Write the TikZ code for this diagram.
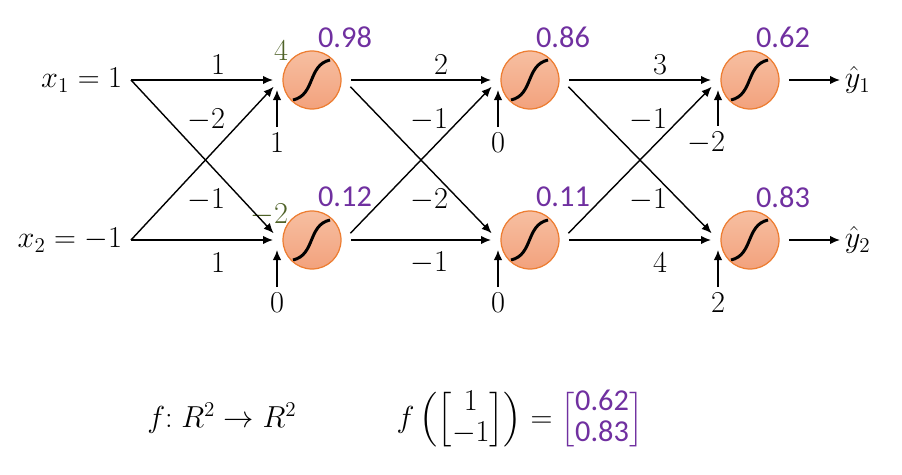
\documentclass[tikz,border=0pt]{standalone}
\usepackage{amsmath}
\usepackage{fontspec}
\newfontfamily\carl{Carlito}
\usetikzlibrary{arrows.meta,positioning}
\definecolor{vio}{HTML}{7030A0}
\definecolor{zgreen}{HTML}{4F6228}
\definecolor{nborder}{HTML}{ED7D31}
\definecolor{ntop}{HTML}{F7BFA1}
\definecolor{nbot}{HTML}{F2A27D}
\newcommand{\mn}{\llap{$-$}}

\begin{document}
\begin{tikzpicture}[
  neuron/.style={circle, draw=nborder, line width=0.7pt, top color=ntop, bottom color=nbot,
    minimum size=11.6mm, inner sep=0pt, outer sep=2mm,
    path picture={\draw[black, line width=1.7pt] ([shift={(-0.38,-0.4)}]path picture bounding box.center)
      .. controls +(0.45,0.1) and +(-0.45,-0.1) .. ([shift={(0.36,0.4)}]path picture bounding box.center);}},
  inp/.style={font=\LARGE, inner sep=0pt, outer sep=1.8mm, anchor=east},
  wlab/.style={font=\LARGE},
  blab/.style={font=\LARGE},
  zlab/.style={font=\LARGE, text=zgreen},
  alab/.style={font=\LARGE\carl, text=vio},
  arr/.style={-{Latex[length=2mm, width=1.7mm]}, line width=0.8pt}]
  \useasboundingbox (0,0) rectangle (18.04,-9.5);
  \node[inp] (x1) at (2.62,-1.6) {$x_1=1$};
  \node[inp] (x2) at (2.62,-4.8) {$x_2=-1$};
  % neurons and their outputs
  \foreach \x/\va/\vb [count=\l] in {6.24/0.98/0.12, 10.6/0.86/0.11, 15.0/0.62/0.83}{
    \node[neuron] (n\l1) at (\x,-1.6) {};
    \node[neuron] (n\l2) at (\x,-4.8) {};
    \node[alab] (a\l1) at (\x+0.66,-0.74) {\va};
    \node[alab] (a\l2) at (\x+0.66,-3.94) {\vb};}
  \node[zlab] (z11) at (5.62,-1.02) {$4$};
  \node[zlab] (z12) at (5.62,-4.3) {$\mn2$};
  % connections
  \draw[arr] (x1.east) -- (n11.west);
  \draw[arr] (x1.east) -- (n12.170);
  \draw[arr] (x2.east) -- (n11.190);
  \draw[arr] (x2.east) -- (n12.west);
  \foreach \a/\b in {1/2,2/3}{
    \draw[arr] (n\a1.east) -- (n\b1.west);
    \draw[arr] (n\a1.350) -- (n\b2.170);
    \draw[arr] (n\a2.10) -- (n\b1.190);
    \draw[arr] (n\a2.east) -- (n\b2.west);}
  \foreach \x/\wa/\wb/\wc/\wq [count=\l] in {4.36/1/\mn2/\mn1/1, 8.82/2/\mn1/\mn2/\mn1, 13.2/3/\mn1/\mn1/4}{
    \node[wlab] (w\l1) at (\x,-1.3) {$\wa$};
    \node[wlab] (w\l2) at (\x,-2.4) {$\wb$};
    \node[wlab] (w\l3) at (\x,-4.0) {$\wc$};
    \node[wlab] (w\l4) at (\x,-5.26) {$\wq$};}
  % biases
  \foreach \x/\ba/\bb [count=\l] in {5.54/1/0, 9.96/0/0, 14.36/\mn2/2}{
    \node[blab] (b\l1) at (\x,-2.86) {$\ba$};
    \node[blab] (b\l2) at (\x,-6.06) {$\bb$};
    \draw[arr] (b\l1) -- (b\l1 |- n\l1.195);
    \draw[arr] (b\l2) -- (b\l2 |- n\l2.195);}
  \node[font=\LARGE, anchor=west, inner sep=2.5pt] (y1) at (16.8,-1.6) {$\hat{y}_1$};
  \node[font=\LARGE, anchor=west, inner sep=2.5pt] (y2) at (16.8,-4.8) {$\hat{y}_2$};
  \draw[arr] (n31.east) -- (y1.west);
  \draw[arr] (n32.east) -- (y2.west);
  \node[font=\LARGE] (fmap) at (4.44,-8.36) {$f{:}\;R^2\to R^2$};
  \node[font=\LARGE] (fval) at (10.4,-8.4) {\renewcommand{\arraystretch}{0.78}$f\left(\begin{bmatrix}1\\-1\end{bmatrix}\right)=\color{vio}\begin{bmatrix}\text{\carl 0.62}\\\text{\carl 0.83}\end{bmatrix}$};
\end{tikzpicture}
\end{document}
